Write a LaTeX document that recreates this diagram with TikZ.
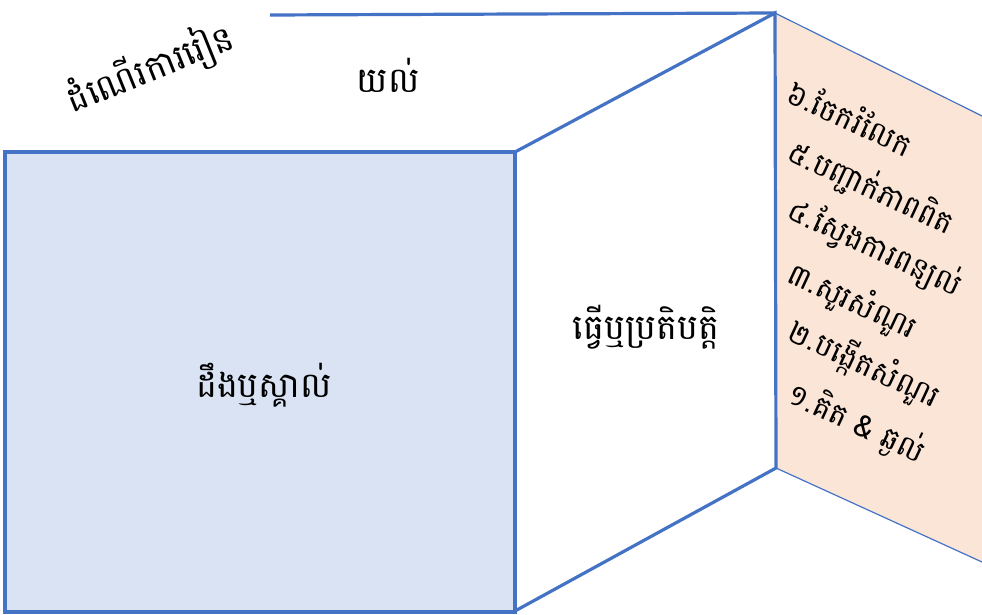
\documentclass[tikz,border=0pt]{standalone}
\usepackage{fontspec}
\newfontfamily\khmer[Script=Khmer]{Battambang}
\definecolor{edgeblue}{HTML}{4472C4}
\definecolor{frontfill}{HTML}{DAE3F3}
\definecolor{sidefill}{HTML}{FBE5D6}
\tikzset{
  thickedge/.style={draw=edgeblue, line width=3.2pt, line join=miter},
  thinedge/.style={draw=edgeblue, line width=1.2pt},
  label/.style={font=\khmer\fontsize{35}{40}\selectfont, inner sep=0pt},
  listitem/.style={font=\khmer\fontsize{30}{34}\selectfont, inner sep=0pt, anchor=west, rotate=-25},
}
\begin{document}
\begin{tikzpicture}[x=1pt,y=-1pt]
\useasboundingbox (0,0) rectangle (982,615);
% corners
\coordinate (ftl) at (5,152);
\coordinate (fbr) at (515,612);
\coordinate (ftr) at (515,152);
\coordinate (fbrr) at (515,611);
\coordinate (bt) at (775,13);
\coordinate (bb) at (776,468);
\coordinate (topl) at (270,15);
\coordinate (rt) at (982,116);
\coordinate (rb) at (982,562);
% right face
\fill[sidefill] (bt) -- (rt) -- (rb) -- (bb) -- cycle;
\draw[thinedge] (bt) -- (rt);
\draw[thinedge] (bb) -- (rb);
% front face
\fill[frontfill] (ftl) rectangle (fbr);
\draw[thickedge] (ftl) rectangle (fbr);
% middle face
\draw[thickedge] (ftr) -- (bt) -- (bb) -- (fbrr);
\draw[thickedge] (topl) -- (bt);
% texts
\node[label, rotate=22] (title) at (150,68) {ដំណើរការរៀន};
\node[label] (understand) at (388,75) {យល់};
\node[label] (know) at (264,385) {ដឹងឬស្គាល់};
\node[label] (do) at (646,327) {ធ្វើឬប្រតិបត្តិ};
\node[listitem] (s6) at (790,88) {៦.ចែករំលែក};
\node[listitem] (s5) at (790,150) {៥.បញ្ជាក់ភាពពិត};
\node[listitem] (s4) at (790,208) {៤.ស្វែងការពន្យល់};
\node[listitem] (s3) at (790,272) {៣.សួរសំណួរ};
\node[listitem] (s2) at (790,330) {២.បង្កើតសំណួរ};
\node[listitem] (s1) at (790,392) {១.គិត \& ឆ្ងល់};
\end{tikzpicture}
\end{document}
